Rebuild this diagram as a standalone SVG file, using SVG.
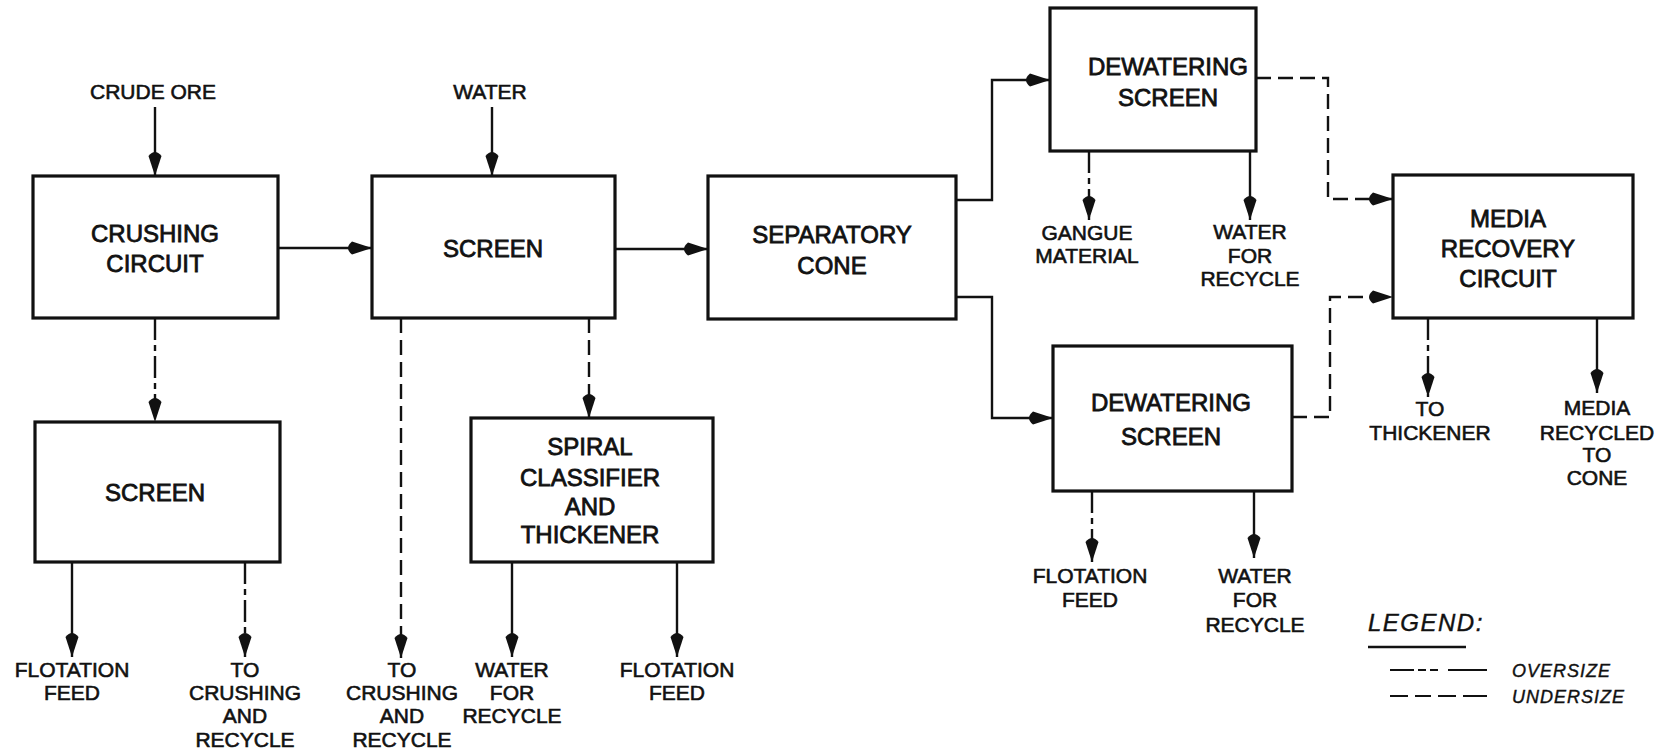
<svg xmlns="http://www.w3.org/2000/svg" width="1678" height="756" viewBox="0 0 1678 756">
<style>
  .box{fill:#fff;stroke:#111;stroke-width:3.2}
  .bl{font-family:"Liberation Sans",Arial,sans-serif;font-size:24px;fill:#111;text-anchor:middle;stroke:#111;stroke-width:0.8}
  .ol{font-family:"Liberation Sans",Arial,sans-serif;font-size:21px;fill:#111;text-anchor:middle;stroke:#111;stroke-width:0.6}
  .lg{font-family:"Liberation Sans",Arial,sans-serif;font-style:italic;fill:#111;stroke:#111;stroke-width:0.4}
  .c{fill:none;stroke:#111;stroke-width:2.4}
  .over{stroke-dasharray:22 5 6 5}
  .under{stroke-dasharray:15 7}
</style>
<defs>
  <marker id="ah" viewBox="0 0 28 16" refX="28" refY="8" markerWidth="28" markerHeight="16" markerUnits="userSpaceOnUse" orient="auto">
    <path d="M28,8 L8,1.5 Q0,8 8,14.5 Z" fill="#111"/>
  </marker>
</defs>
<rect width="1678" height="756" fill="#fff"/>

<g id="connectors">
  <path class="c" d="M155,107 V176" marker-end="url(#ah)"/>
  <path class="c" d="M492,107 V176" marker-end="url(#ah)"/>
  <path class="c" d="M278,248 H372" marker-end="url(#ah)"/>
  <path class="c" d="M615,249 H708" marker-end="url(#ah)"/>
  <path class="c over" d="M155,318 V422" marker-end="url(#ah)"/>
  <path class="c" d="M72,562 V657" marker-end="url(#ah)"/>
  <path class="c over" d="M245,562 V657" marker-end="url(#ah)"/>
  <path class="c under" d="M401,318 V658" marker-end="url(#ah)"/>
  <path class="c under" d="M589,318 V418" marker-end="url(#ah)"/>
  <path class="c" d="M512,562 V657" marker-end="url(#ah)"/>
  <path class="c" d="M677,562 V657" marker-end="url(#ah)"/>
  <path class="c" d="M956,200 H992 V80 H1050" marker-end="url(#ah)"/>
  <path class="c" d="M956,297 H992 V418 H1053" marker-end="url(#ah)"/>
  <path class="c over" d="M1089,151 V220" marker-end="url(#ah)"/>
  <path class="c" d="M1250,151 V220" marker-end="url(#ah)"/>
  <path class="c under" d="M1256,78 H1328 V199 H1393" marker-end="url(#ah)"/>
  <path class="c under" d="M1292,417 H1330 V297 H1393" marker-end="url(#ah)"/>
  <path class="c over" d="M1092,491 V562" marker-end="url(#ah)"/>
  <path class="c" d="M1254,491 V558" marker-end="url(#ah)"/>
  <path class="c over" d="M1428,318 V397" marker-end="url(#ah)"/>
  <path class="c" d="M1597,318 V393" marker-end="url(#ah)"/>
</g>

<g id="crushing-circuit">
  <rect class="box" x="33" y="176" width="245" height="142"/>
  <text class="bl" x="155" y="242">CRUSHING</text>
  <text class="bl" x="155" y="272">CIRCUIT</text>
</g>
<g id="screen-1">
  <rect class="box" x="372" y="176" width="243" height="142"/>
  <text class="bl" x="493" y="257">SCREEN</text>
</g>
<g id="separatory-cone">
  <rect class="box" x="708" y="176" width="248" height="143"/>
  <text class="bl" x="832" y="243">SEPARATORY</text>
  <text class="bl" x="832" y="274">CONE</text>
</g>
<g id="dewatering-screen-1">
  <rect class="box" x="1050" y="8" width="206" height="143"/>
  <text class="bl" x="1168" y="75">DEWATERING</text>
  <text class="bl" x="1168" y="106">SCREEN</text>
</g>
<g id="dewatering-screen-2">
  <rect class="box" x="1053" y="346" width="239" height="145"/>
  <text class="bl" x="1171" y="411">DEWATERING</text>
  <text class="bl" x="1171" y="445">SCREEN</text>
</g>
<g id="media-recovery">
  <rect class="box" x="1393" y="175" width="240" height="143"/>
  <text class="bl" x="1508" y="227">MEDIA</text>
  <text class="bl" x="1508" y="257">RECOVERY</text>
  <text class="bl" x="1508" y="287">CIRCUIT</text>
</g>
<g id="screen-2">
  <rect class="box" x="35" y="422" width="245" height="140"/>
  <text class="bl" x="155" y="501">SCREEN</text>
</g>
<g id="spiral-classifier">
  <rect class="box" x="471" y="418" width="242" height="144"/>
  <text class="bl" x="590" y="455">SPIRAL</text>
  <text class="bl" x="590" y="486">CLASSIFIER</text>
  <text class="bl" x="590" y="515">AND</text>
  <text class="bl" x="590" y="543">THICKENER</text>
</g>

<g id="labels">
  <text class="ol" x="153" y="99">CRUDE ORE</text>
  <text class="ol" x="490" y="99">WATER</text>
  <text class="ol" x="72" y="677">FLOTATION</text>
  <text class="ol" x="72" y="700">FEED</text>
  <text class="ol" x="245" y="677">TO</text>
  <text class="ol" x="245" y="700">CRUSHING</text>
  <text class="ol" x="245" y="723">AND</text>
  <text class="ol" x="245" y="747">RECYCLE</text>
  <text class="ol" x="402" y="677">TO</text>
  <text class="ol" x="402" y="700">CRUSHING</text>
  <text class="ol" x="402" y="723">AND</text>
  <text class="ol" x="402" y="747">RECYCLE</text>
  <text class="ol" x="512" y="677">WATER</text>
  <text class="ol" x="512" y="700">FOR</text>
  <text class="ol" x="512" y="723">RECYCLE</text>
  <text class="ol" x="677" y="677">FLOTATION</text>
  <text class="ol" x="677" y="700">FEED</text>
  <text class="ol" x="1087" y="240">GANGUE</text>
  <text class="ol" x="1087" y="263">MATERIAL</text>
  <text class="ol" x="1250" y="239">WATER</text>
  <text class="ol" x="1250" y="263">FOR</text>
  <text class="ol" x="1250" y="286">RECYCLE</text>
  <text class="ol" x="1090" y="583">FLOTATION</text>
  <text class="ol" x="1090" y="607">FEED</text>
  <text class="ol" x="1255" y="583">WATER</text>
  <text class="ol" x="1255" y="607">FOR</text>
  <text class="ol" x="1255" y="632">RECYCLE</text>
  <text class="ol" x="1430" y="416">TO</text>
  <text class="ol" x="1430" y="440">THICKENER</text>
  <text class="ol" x="1597" y="415">MEDIA</text>
  <text class="ol" x="1597" y="440">RECYCLED</text>
  <text class="ol" x="1597" y="462">TO</text>
  <text class="ol" x="1597" y="485">CONE</text>
</g>

<g id="legend">
  <text class="lg" x="1368" y="631" font-size="24" letter-spacing="1.5">LEGEND:</text>
  <line x1="1368" y1="647" x2="1466" y2="647" stroke="#111" stroke-width="2.5"/>
  <path d="M1390,670 H1414 M1418,670 H1426 M1430,670 H1438 M1448,670 H1487" stroke="#111" stroke-width="2"/>
  <text class="lg" x="1512" y="677" font-size="18" letter-spacing="1">OVERSIZE</text>
  <path d="M1390,696 H1408 M1415,696 H1431 M1438,696 H1456 M1463,696 H1487" stroke="#111" stroke-width="2"/>
  <text class="lg" x="1512" y="703" font-size="18" letter-spacing="1">UNDERSIZE</text>
</g>
</svg>
